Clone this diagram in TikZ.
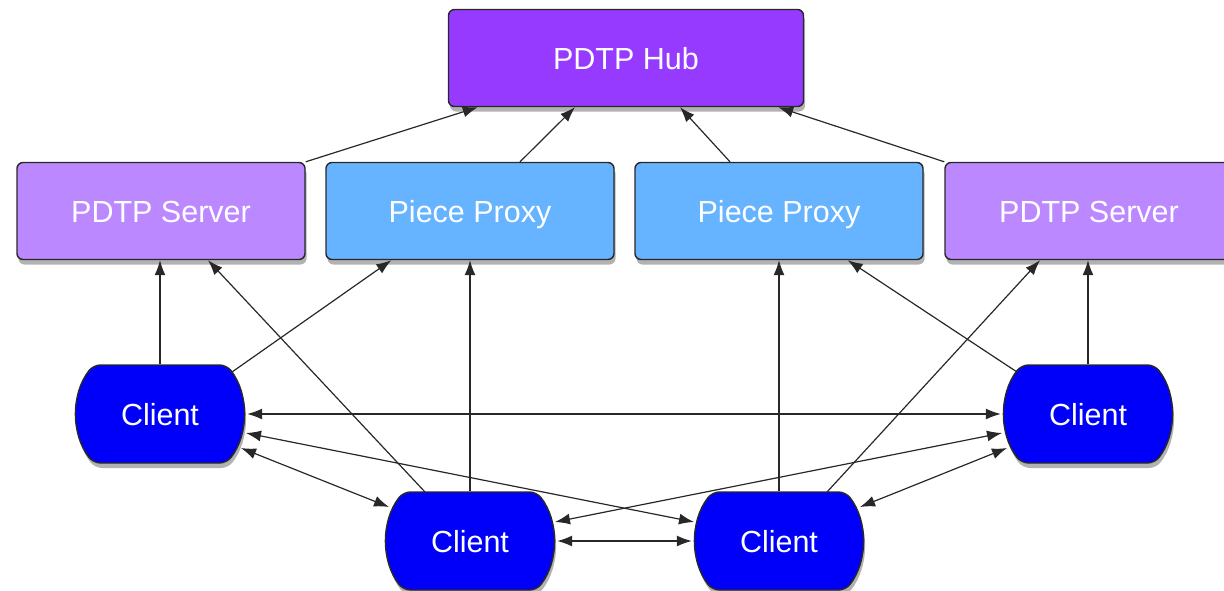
\documentclass[tikz,border=0pt]{standalone}
\usepackage{fontspec}
\setmainfont{Liberation Sans}
\usetikzlibrary{arrows.meta,shapes.misc,shadows}
\definecolor{hubpurple}{RGB}{150,58,255}
\definecolor{srvlilac}{RGB}{187,136,255}
\definecolor{proxyblue}{RGB}{102,180,255}
\definecolor{clientblue}{RGB}{0,0,250}
\definecolor{edgegray}{RGB}{40,40,40}
\tikzset{
  base/.style={draw=edgegray, line width=1.4pt, text=white,
    font=\fontsize{30.5}{36}\selectfont, text height=22pt, text depth=0pt,
    drop shadow={shadow xshift=1.5pt, shadow yshift=-5pt, fill=black, opacity=0.3}},
  boxnode/.style={base, rectangle, rounded corners=6pt, minimum height=97pt, inner sep=0pt},
  hubbox/.style={boxnode, fill=hubpurple, minimum width=355pt},
  srvbox/.style={boxnode, fill=srvlilac, minimum width=288pt},
  proxybox/.style={boxnode, fill=proxyblue, minimum width=288pt},
  clientbox/.style={base, rounded rectangle, rounded rectangle arc length=76,
    rounded corners=7pt,
    fill=clientblue, minimum width=167pt, minimum height=98pt, inner sep=0pt},
  link/.style={draw=edgegray, line width=1.2pt, -{Latex[length=15pt,width=11pt]}},
  twoway/.style={draw=edgegray, line width=1.2pt, {Latex[length=15pt,width=11pt]}-{Latex[length=15pt,width=11pt]}}
}
\begin{document}
\begin{tikzpicture}[x=1pt,y=-1pt]
\useasboundingbox (0,0) rectangle (1224,590);
\clip (0,0) rectangle (1224,590);

% top level
\node[hubbox] (hub) at (626,58) {PDTP Hub};

% middle row
\node[srvbox]   (srvL) at (161,211) {PDTP Server};
\node[proxybox] (prxL) at (470,211) {Piece Proxy};
\node[proxybox] (prxR) at (779,211) {Piece Proxy};
\node[srvbox]   (srvR) at (1089,211) {PDTP Server};

% clients
\node[clientbox] (cL)  at (160,414)  {Client};
\node[clientbox] (cR)  at (1088,414) {Client};
\node[clientbox] (cBL) at (470,541)  {Client};
\node[clientbox] (cBR) at (779,541)  {Client};

% middle row to hub
\draw[link] (srvL.north east) -- ([xshift=30pt]hub.south west);
\draw[link] ([xshift=50pt]prxL.north) -- ([xshift=-51pt]hub.south);
\draw[link] ([xshift=-49pt]prxR.north) -- ([xshift=54pt]hub.south);
\draw[link] (srvR.north west) -- ([xshift=-26pt]hub.south east);

% clients to servers and proxies (offsets in pt: positive y is upward)
\draw[link] (cL.north) -- (cL.north |- srvL.south);
\draw[link] ([shift={(72pt,42pt)}]cL.center) -- ([xshift=66pt]prxL.south west);
\draw[link] ([shift={(-45pt,49pt)}]cBL.center) -- ([xshift=47pt]srvL.south);
\draw[link] (cBL.north) -- (cBL.north |- prxL.south);
\draw[link] (cBR.north) -- (cBR.north |- prxR.south);
\draw[link] ([shift={(48pt,49pt)}]cBR.center) -- ([xshift=-49pt]srvR.south);
\draw[link] ([shift={(-71pt,42pt)}]cR.center) -- ([xshift=-76pt]prxR.south east);
\draw[link] (cR.north) -- (cR.north |- srvR.south);

% client to client
\draw[twoway] ([xshift=3pt]cL.east) -- ([xshift=-3pt]cR.west);
\draw[twoway] ([shift={(86pt,-19pt)}]cL.center) -- ([shift={(-85pt,19pt)}]cBR.center);
\draw[twoway] ([shift={(-86pt,-19pt)}]cR.center) -- ([shift={(85pt,19pt)}]cBL.center);
\draw[twoway] ([shift={(81pt,-34pt)}]cL.center) -- ([shift={(-81pt,34pt)}]cBL.center);
\draw[twoway] ([shift={(-81pt,-34pt)}]cR.center) -- ([shift={(81pt,34pt)}]cBR.center);
\draw[twoway] ([xshift=3pt]cBL.east) -- ([xshift=-3pt]cBR.west);
\end{tikzpicture}
\end{document}
